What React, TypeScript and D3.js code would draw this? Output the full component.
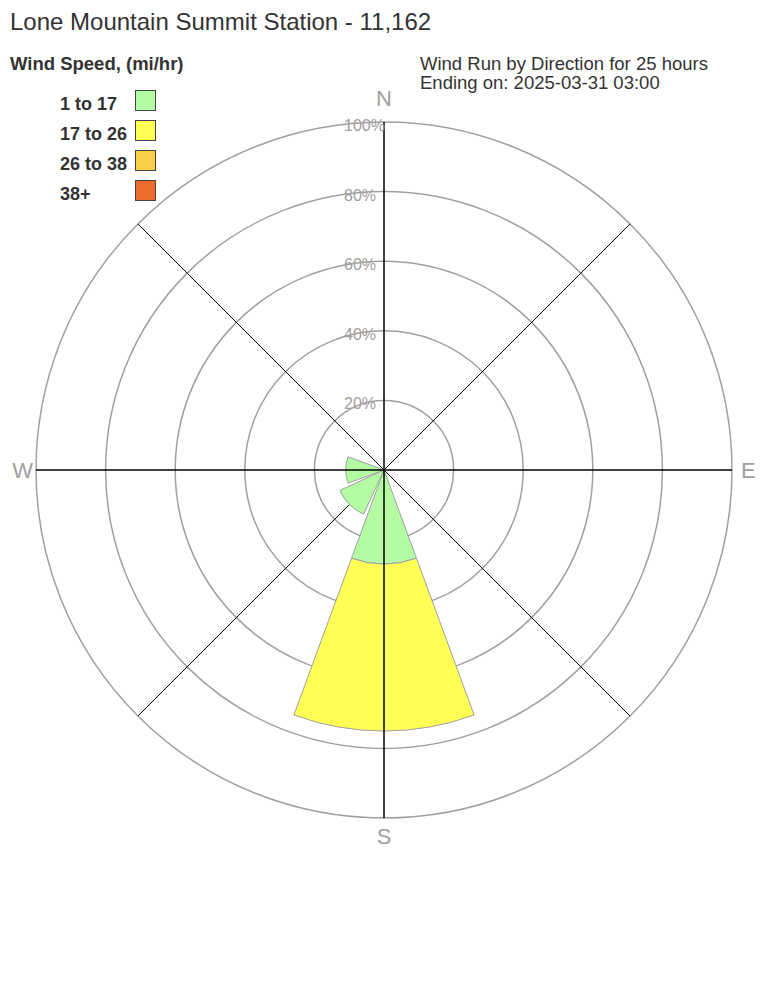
import * as d3 from 'd3'

const directions = ['N', 'NE', 'E', 'SE', 'S', 'SW', 'W', 'NW']
const speedBins = ['1 to 17', '17 to 26', '26 to 38', '38+']
const binColors = ['#b3fca4', '#ffff55', '#f8cd48', '#ec6c2e']
// percent of wind run per direction, one array per speed bin
const run1to17 = [0, 0, 0, 0, 27, 14, 11, 0]
const run17to26 = [0, 0, 0, 0, 48, 0, 0, 0]
const run26to38 = [0, 0, 0, 0, 0, 0, 0, 0]
const run38plus = [0, 0, 0, 0, 0, 0, 0, 0]
const ringTicks = [20, 40, 60, 80, 100]
const compassLabels = ['N', 'E', 'S', 'W']

const W = 768
const H = 1008
const cx = 384
const cy = 470
const R = 348
const font = 'Liberation Sans, Arial, sans-serif'

// label offsets from centre
const compassPos: Record<string, [number, number, 'start' | 'middle' | 'end']> = {
  N: [0, -372, 'middle'],
  E: [357, 0, 'start'],
  S: [0, 366, 'middle'],
  W: [-351, 0, 'end'],
}

export default function App() {
  const r = d3.scaleLinear().domain([0, 100]).range([0, R])
  const angle = d3
    .scaleBand<string>()
    .domain(directions)
    .range([0, 2 * Math.PI])
  const half = (20.2 * Math.PI) / 180

  const series = [run1to17, run17to26, run26to38, run38plus]
  const stack = directions.map((_, i) => {
    let acc = 0
    return series.map((s) => {
      const r0 = acc
      acc += s[i]
      return [r0, acc]
    })
  })

  const arc = d3
    .arc<{ a: number; r0: number; r1: number }>()
    .startAngle((d) => d.a - half)
    .endAngle((d) => d.a + half)
    .innerRadius((d) => r(d.r0))
    .outerRadius((d) => r(d.r1))

  const spoke = (deg: number) => {
    const t = (deg * Math.PI) / 180
    return { x: Math.sin(t) * R, y: -Math.cos(t) * R }
  }

  return (
    <svg
      width={W}
      height={H}
      style={{ position: 'absolute', left: 0, top: 0, background: '#fff' }}
      fontFamily={font}
    >
      <text x={10} y={30} fontSize={24} fill="#333">
        Lone Mountain Summit Station - 11,162
      </text>
      <text x={10} y={70} fontSize={18.5} fontWeight="bold" fill="#333">
        Wind Speed, (mi/hr)
      </text>
      {speedBins.map((b, i) => (
        <g key={b} transform={`translate(0,${90 + i * 30})`}>
          <text x={60} y={19.5} fontSize={18} fontWeight="bold" fill="#333">
            {b}
          </text>
          <rect x={135.5} y={0.5} width={20} height={20} fill={binColors[i]} stroke="#444" strokeWidth={1} />
        </g>
      ))}
      <text x={420} y={69.5} fontSize={18.5} fill="#333">
        Wind Run by Direction for 25 hours
      </text>
      <text x={420} y={88.5} fontSize={18.5} fill="#333">
        Ending on: 2025-03-31 03:00
      </text>

      <g transform={`translate(${cx},${cy})`}>
        {ringTicks.map((t) => (
          <circle key={t} r={r(t)} fill="none" stroke="#a0a0a0" strokeWidth={1.5} />
        ))}
        {[45, 135, 225, 315].map((deg) => {
          const p = spoke(deg)
          return <line key={deg} x1={0} y1={0} x2={p.x} y2={p.y} stroke="#000" strokeWidth={1} />
        })}
        {directions.map((d, i) =>
          series.map((s, k) =>
            s[i] > 0 ? (
              <path
                key={`${d}-${k}`}
                d={arc({ a: angle(d) ?? 0, r0: stack[i][k][0], r1: stack[i][k][1] }) ?? ''}
                fill={binColors[k]}
                stroke="#a0a0a0"
                strokeWidth={1}
              />
            ) : null
          )
        )}
        {[0, 90, 180, 270].map((deg) => {
          const p = spoke(deg)
          return <line key={deg} x1={0} y1={0} x2={p.x} y2={p.y} stroke="#000" strokeWidth={1.5} />
        })}
        {ringTicks.map((t) => (
          <text key={t} x={-40} y={-r(t) + 9} fontSize={16} fill="#a0a0a0">
            {t}%
          </text>
        ))}
        {compassLabels.map((l) => {
          const [x, y, anchor] = compassPos[l]
          return (
            <text
              key={l}
              x={x}
              y={y}
              fontSize={22}
              fill="#a0a0a0"
              textAnchor={anchor}
              dominantBaseline="central"
            >
              {l}
            </text>
          )
        })}
      </g>
    </svg>
  )
}
